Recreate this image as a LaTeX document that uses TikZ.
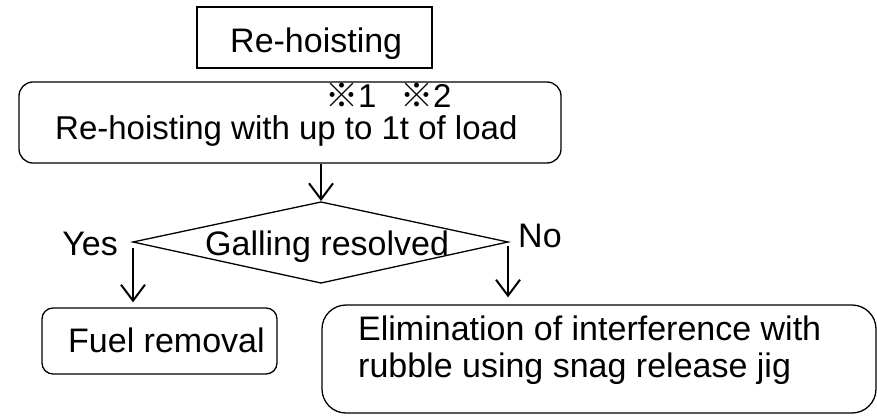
\documentclass[tikz,border=0pt]{standalone}
\usepackage{fontspec}
\setmainfont{Liberation Sans}
\newfontfamily\cjkfont{Noto Sans CJK JP}
\usetikzlibrary{arrows.meta}
\begin{document}
\begin{tikzpicture}[x=1pt,y=-1pt,
  box/.style={draw, line width=1.3pt, inner sep=0pt},
  lbl/.style={inner sep=0pt, anchor=base west, font=\fontsize{34}{40}\selectfont},
  lbls/.style={inner sep=0pt, anchor=base west, font=\fontsize{33}{40}\selectfont},
  flow/.style={line width=2pt, -{Straight Barb[length=16pt,width=24pt,line width=2pt]}}]
\useasboundingbox (0,0) rectangle (877,415);
% boxes
\node[box, minimum width=235pt, minimum height=61pt] (start) at (314.5,37.5) {};
\node[box, rounded corners=14pt, minimum width=542pt, minimum height=81pt] (hoist) at (290,122.5) {};
\node[box, rounded corners=11pt, minimum width=235pt, minimum height=66pt] (fuel) at (159.5,341) {};
\node[box, rounded corners=24pt, minimum width=554pt, minimum height=108pt] (elim) at (599,359) {};
% diamond
\coordinate (dT) at (321,202);
\coordinate (dL) at (133,242);
\coordinate (dB) at (321,283);
\coordinate (dR) at (508,242);
\draw[line width=1.3pt, line join=miter] (dT) -- (dR) -- (dB) -- (dL) -- cycle;
% texts
\node[lbl] (t1) at (230,52) {Re-hoisting};
\node[lbls] (n1) at (325,107) {{\cjkfont ※}1};
\node[lbls] (n2) at (400,107) {{\cjkfont ※}2};
\node[lbls] (t2) at (55,139) {Re-hoisting with up to 1t of load};
\node[lbl] (tq) at (205,255) {Galling resolved};
\node[lbl, anchor=base east] (yes) at (118,255) {Yes};
\node[lbl] (no) at (518,247) {No};
\node[lbl] (t3) at (68,352) {Fuel removal};
\node[lbl] (t4a) at (358,340) {Elimination of interference with};
\node[lbl] (t4b) at (358,377) {rubble using snag release jig};
% connectors
\draw[flow, shorten >=1pt] (hoist.south -| dT) -- (dT);
\draw[flow, shorten >=5pt] ([yshift=-6pt]dL) -- (dL |- fuel.north);
\draw[flow, shorten >=7pt] ([yshift=-4pt]dR) -- (dR |- elim.north);
\end{tikzpicture}
\end{document}
